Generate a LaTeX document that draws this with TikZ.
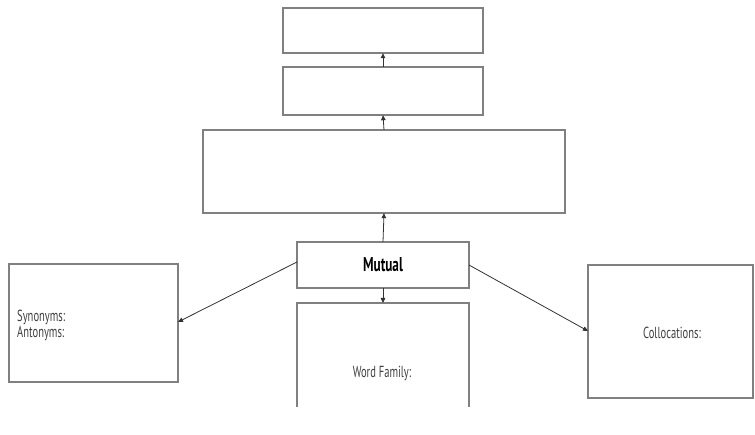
\documentclass[tikz,border=0pt]{standalone}
\usepackage{fontspec}
\setmainfont{Liberation Sans}
\newfontfamily\cond[FakeStretch=0.66]{PT Sans}
\usetikzlibrary{arrows.meta}
\begin{document}
\begin{tikzpicture}[x=1pt,y=-1pt,
  box/.style={draw=black!50,line width=1.4pt},
  conn/.style={draw=black!80,line width=0.8pt,-{Triangle[length=5pt,width=4.5pt]}},
  lbl/.style={font=\cond\fontsize{16}{16}\selectfont,text=black!75,inner sep=0pt}]
\useasboundingbox[fill=white] (0,0) rectangle (755,435);
% boxes
\path[box] (283,8) rectangle (483,53);
\node[inner sep=0pt,minimum width=200pt,minimum height=45pt] (t1) at (383,30.5) {};
\path[box] (283,67) rectangle (483,115);
\node[inner sep=0pt,minimum width=200pt,minimum height=48pt] (t2) at (383,91) {};
\path[box] (203,130) rectangle (565,213);
\node[inner sep=0pt,minimum width=362pt,minimum height=83pt] (big) at (384,171.5) {};
\path[box] (297,242) rectangle (469,288);
\node[inner sep=0pt,minimum width=172pt,minimum height=46pt] (mut) at (383,265)
  {\cond\bfseries\fontsize{20}{22}\selectfont Mutual};
\path[box] (297,407) -- (297,303) -- (469,303) -- (469,407);
\coordinate (wf) at (383,303);
\node[lbl] (wft) at (382,373) {Word Family:};
\path[box] (9,264) rectangle (178,382);
\coordinate (lb) at (178,322);
\node[lbl,anchor=west,align=left] (syn) at (17,325) {Synonyms:\\Antonyms:};
\path[box] (588,265) rectangle (753,398);
\coordinate (rb) at (588,331);
\node[lbl] (col) at (672,333) {Collocations:};
% connectors
\draw[conn] (t2.north) -- (t1.south);
\draw[conn] (big.north) -- (t2.south);
\draw[conn] (mut.north) -- (big.south);
\draw[conn] (mut.south) -- (wf);
\draw[conn] (297,262) -- (lb);
\draw[conn] (469,265) -- (rb);
\end{tikzpicture}
\end{document}
